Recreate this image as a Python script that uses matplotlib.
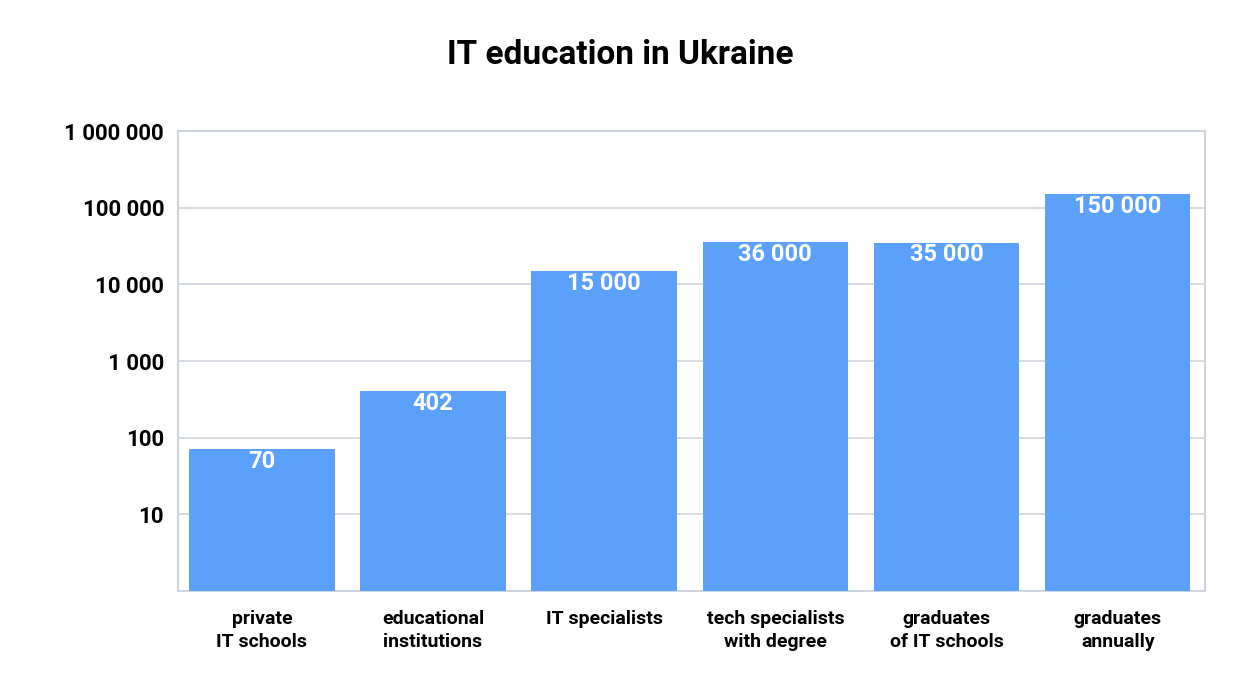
import numpy as np
import matplotlib.pyplot as plt
from matplotlib.ticker import FixedLocator, NullLocator

plt.rcParams['font.family'] = ['Roboto', 'DejaVu Sans']

# Data
categories = ['private\nIT schools', 'educational\ninstitutions', 'IT specialists',
              'tech specialists\nwith degree', 'graduates\nof IT schools', 'graduates\nannually']
values = [70, 402, 15000, 36000, 35000, 150000]
labels = ['70', '402', '15 000', '36 000', '35 000', '150 000']
yticks = [10, 100, 1000, 10000, 100000, 1000000]
ytick_labels = ['10', '100', '1 000', '10 000', '100 000', '1 000 000']

fig = plt.figure(figsize=(12.41, 7), dpi=100)
ax = fig.add_axes([178/1241, 1-591/700, (1205-178)/1241, (591-131)/700])

x = np.arange(len(values))
ax.bar(x, values, width=0.85, bottom=1, color='#5ba0fb', zorder=3)
ax.set_yscale('log')
ax.set_ylim(1, 1e6)
ax.set_xlim(-0.49, 5.51)
ax.yaxis.set_major_locator(FixedLocator(yticks))
ax.yaxis.set_minor_locator(NullLocator())
ax.set_yticklabels(ytick_labels, fontsize=16, fontweight='bold')
ax.set_xticks(x)
ax.set_xticklabels(categories, fontsize=14, fontweight='bold', linespacing=1.3)
ax.tick_params(length=0, pad=10)
ax.tick_params(axis='x', pad=14)
ax.grid(axis='y', color='#cfd5de', linewidth=1.2, zorder=0)
for s in ax.spines.values():
    s.set_color('#cfd5de')
    s.set_linewidth(1.5)

for xi, v, lab in zip(x, values, labels):
    ax.text(xi, v / 1.45, lab, ha='center', va='center', color='white',
            fontsize=17, fontweight='bold', zorder=4)

fig.text(0.5, 1-55/700, 'IT education in Ukraine', ha='center', va='center',
         fontsize=24, fontweight='bold')

fig.savefig('out.png', dpi=100)
